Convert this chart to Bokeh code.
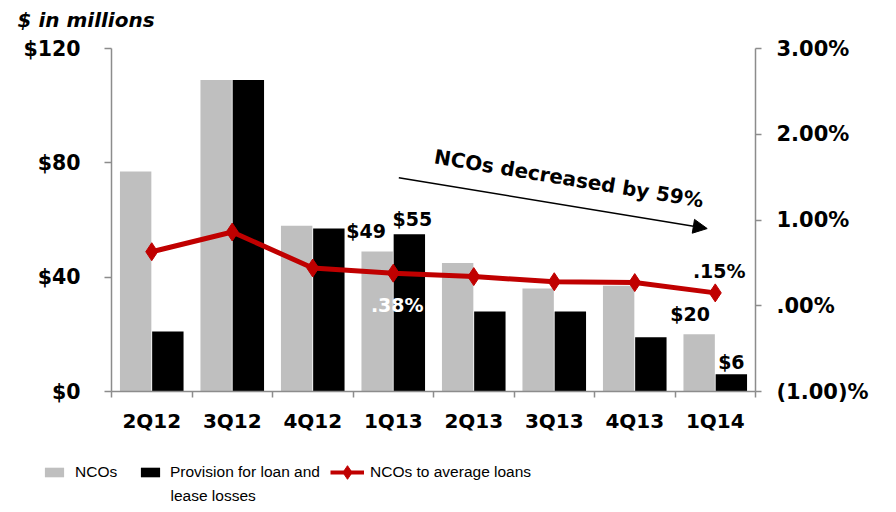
from bokeh.plotting import figure
from bokeh.models import (Range1d, LinearAxis, FixedTicker, Legend, LegendItem,
                          Label, Arrow, NormalHead)
from bokeh.embed import file_html
from bokeh.resources import INLINE

# ---- data ----
categories = ["2Q12", "3Q12", "4Q12", "1Q13", "2Q13", "3Q13", "4Q13", "1Q14"]
ncos = [77, 109, 58, 49, 45, 36, 37, 20]
provision = [21, 109, 57, 55, 28, 28, 19, 6]
nco_ratio = [0.63, 0.86, 0.44, 0.38, 0.34, 0.28, 0.27, 0.15]
left_ticks = [0, 40, 80, 120]
left_tick_labels = ["$0", "$40", "$80", "$120"]
right_ticks = [-1, 0, 1, 2, 3]
right_tick_labels = ["(1.00)%", ".00%", "1.00%", "2.00%", "3.00%"]
legend_labels = ["NCOs", "Provision for loan and", "lease losses", "NCOs to average loans"]
unit_title = "$ in millions"

GRAY = "#BFBFBF"
RED = "#C00000"
AXIS = "#8C8C8C"
BOLD_FONT = "DejaVu Sans"
LEG_FONT = "Liberation Sans"

n = len(categories)
xs = [i + 0.5 for i in range(n)]
xs_gray = [x - 0.2 for x in xs]
xs_black = [x + 0.2 for x in xs]


def strip(height):
    f = figure(width=896, height=height, x_range=Range1d(0, 896), y_range=Range1d(0, height),
               output_backend="svg", toolbar_location=None,
               min_border_left=0, min_border_right=0, min_border_top=0, min_border_bottom=0)
    f.axis.visible = False
    f.grid.visible = False
    f.outline_line_color = None
    return f


# ---- title strip ----
tf = strip(36)
tf.add_layout(Label(x=17, y=29, text=unit_title, text_align="left", text_baseline="top",
                    text_font=BOLD_FONT, text_font_style="bold italic",
                    text_font_size="20px", text_color="black"))

# ---- main chart ----
p = figure(width=896, height=404, x_range=Range1d(0, n), y_range=Range1d(0, 120),
           output_backend="svg", toolbar_location=None,
           min_border_left=111, min_border_right=141, min_border_top=12,
           min_border_bottom=49)
p.extra_y_ranges = {"pct": Range1d(-1, 3)}
p.outline_line_color = None
p.xgrid.grid_line_color = None
p.ygrid.grid_line_color = None

# bars
r_gray = p.vbar(x=xs_gray, top=ncos, width=0.39, fill_color=GRAY, line_color=None)
r_black = p.vbar(x=xs_black, top=provision, width=0.39, fill_color="black", line_color=None)

# line
r_line = p.line(xs, nco_ratio, y_range_name="pct", line_color=RED, line_width=5)
r_pts = p.scatter(xs, nco_ratio, y_range_name="pct", marker="diamond", size=18,
                  fill_color=RED, line_color=RED)

# x axis
xax = p.xaxis[0]
xax.ticker = FixedTicker(ticks=xs, minor_ticks=list(range(n + 1)))
xax.major_label_overrides = {x: c for x, c in zip(xs, categories)}
xax.major_tick_line_color = None
xax.major_tick_out = 0
xax.major_tick_in = 0
xax.minor_tick_out = 6
xax.minor_tick_in = 0
xax.minor_tick_line_color = AXIS
xax.minor_tick_line_width = 1.5
xax.axis_line_color = AXIS
xax.axis_line_width = 1.5
xax.major_label_standoff = 11
xax.major_label_text_font = BOLD_FONT
xax.major_label_text_font_style = "bold"
xax.major_label_text_font_size = "20px"
xax.major_label_text_color = "black"

# left axis
yax = p.yaxis[0]
yax.ticker = FixedTicker(ticks=left_ticks, minor_ticks=[])
yax.major_label_overrides = {t: l for t, l in zip(left_ticks, left_tick_labels)}
yax.major_tick_out = 7
yax.major_tick_in = 0
yax.major_tick_line_color = AXIS
yax.major_tick_line_width = 1.5
yax.minor_tick_line_color = None
yax.axis_line_color = AXIS
yax.axis_line_width = 1.5
yax.major_label_standoff = 24
yax.major_label_text_font = BOLD_FONT
yax.major_label_text_font_style = "bold"
yax.major_label_text_font_size = "20.5px"
yax.major_label_text_color = "black"

# right axis
rax = LinearAxis(y_range_name="pct")
rax.ticker = FixedTicker(ticks=right_ticks, minor_ticks=[])
rax.major_label_overrides = {t: l for t, l in zip(right_ticks, right_tick_labels)}
rax.major_tick_out = 6
rax.major_tick_in = 0
rax.major_tick_line_color = AXIS
rax.major_tick_line_width = 1.5
rax.minor_tick_line_color = None
rax.axis_line_color = AXIS
rax.axis_line_width = 1.5
rax.major_label_standoff = 15
rax.major_label_text_font = BOLD_FONT
rax.major_label_text_font_style = "bold"
rax.major_label_text_font_size = "21px"
rax.major_label_text_color = "black"
p.add_layout(rax, "right")

# value labels
def add_label(x, y, text, dx, dy, color="black", y_range_name="default"):
    p.add_layout(Label(x=x, y=y, text=text, x_offset=dx, y_offset=dy,
                       text_align="center", text_baseline="alphabetic",
                       text_font=BOLD_FONT, text_font_style="bold",
                       text_font_size="19px", text_color=color,
                       y_range_name=y_range_name))

add_label(xs_gray[3], ncos[3], f"${ncos[3]}", -11, 20)
add_label(xs_black[3], provision[3], f"${provision[3]}", 3, 15)
add_label(xs_gray[7], ncos[7], f"${ncos[7]}", -9, 20)
add_label(xs_black[7], provision[7], f"${provision[7]}", 0, 12)
add_label(xs[3], nco_ratio[3], f"{nco_ratio[3]:.2f}%".lstrip("0"), 4, -32, "white", "pct")
add_label(xs[7], nco_ratio[7], f"{nco_ratio[7]:.2f}%".lstrip("0"), 4, 22, "black", "pct")

# annotation arrow + text
p.add_layout(Arrow(end=NormalHead(size=14, fill_color="black", line_color="black"),
                   x_start=3.569, y_start=74.8, x_end=7.40, y_end=57.0,
                   line_width=1.5, line_color="black"))
p.add_layout(Label(x=5.683, y=74.5, text="NCOs decreased by 59%", angle=-0.163,
                   text_align="center", text_baseline="middle",
                   text_font=BOLD_FONT, text_font_style="bold",
                   text_font_size="20px", text_color="black"))

# ---- legend strip ----
lf = strip(72)
lf.extra_y_ranges = {"off": Range1d(10000, 10001)}
lg_gray = lf.vbar(x=xs_gray, top=ncos, width=0.39, fill_color=GRAY, line_color=None,
                  y_range_name="off")
lg_black = lf.vbar(x=xs_black, top=provision, width=0.39, fill_color="black",
                   line_color=None, y_range_name="off")
lg_line = lf.line(xs, nco_ratio, line_color=RED, line_width=4, y_range_name="off")
lg_pts = lf.scatter(xs, nco_ratio, marker="diamond", size=18, fill_color=RED,
                    line_color=RED, y_range_name="off")

def make_legend(items, loc, gw, gh, standoff):
    lg = Legend(items=items, location=loc, orientation="horizontal",
                glyph_width=gw, glyph_height=gh, label_standoff=standoff,
                padding=0, margin=0, spacing=0, border_line_color=None,
                background_fill_alpha=0, label_text_font=LEG_FONT,
                label_text_font_size="15.5px", label_text_color="black",
                label_height=20)
    lf.add_layout(lg, "center")

make_legend([LegendItem(label=legend_labels[0], renderers=[lg_gray])], (42, 30), 24, 12, 9)
make_legend([LegendItem(label=legend_labels[1], renderers=[lg_black])], (138, 30), 24, 12, 8)
make_legend([LegendItem(label=legend_labels[3], renderers=[lg_line, lg_pts])],
            (330, 20), 34, 40, 6)
lf.add_layout(Label(x=170, y=17, text=legend_labels[2], text_align="left",
                    text_baseline="alphabetic", text_font=LEG_FONT,
                    text_font_size="15.5px", text_color="black"))

open("out.html", "w").write(file_html([tf, p, lf], INLINE))
